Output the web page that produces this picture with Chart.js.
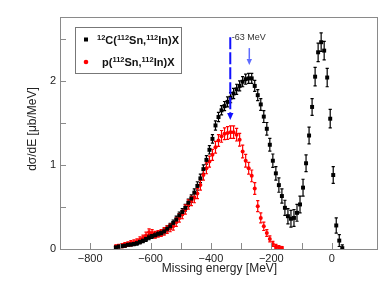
<!DOCTYPE html>
<html>
<head>
<meta charset="utf-8">
<script src="https://cdn.jsdelivr.net/npm/chart.js@4"></script>
<style>
  html, body { margin: 0; padding: 0; background: #fff; }
  #wrap { width: 392px; height: 286px; }
</style>
</head>
<body>
<div id="wrap"><canvas id="chart" width="392" height="286"></canvas></div>
<script>
// ==============================
// data
// ==============================
const blackX = [
  -715, -705, -695, -685, -675, -665, -655, -645, -635, -625,
  -615, -605, -595, -585, -575, -565, -555, -545, -535, -525,
  -515, -505, -495, -485, -475, -465, -455, -445, -435, -425,
  -415, -405, -395, -385, -375, -365, -355, -345, -335, -325,
  -315, -305, -295, -285, -275, -265, -255, -245, -235, -225,
  -215, -205, -195, -185, -175, -165, -155, -145, -135, -125,
  -115, -105, -95, -85, -75, -65, -55, -45, -35, -25,
  -15, -5, 5, 15, 25, 35
];
const blackY = [
  0.02, 0.03, 0.035, 0.04, 0.05, 0.055, 0.06, 0.07, 0.085, 0.10,
  0.12, 0.14, 0.155, 0.165, 0.18, 0.19, 0.21, 0.24, 0.27, 0.31,
  0.35, 0.40, 0.44, 0.49, 0.55, 0.60, 0.67, 0.75, 0.84, 0.95,
  1.06, 1.18, 1.31, 1.47, 1.57, 1.65, 1.70, 1.75, 1.80, 1.85,
  1.90, 1.94, 1.99, 2.02, 2.03, 2.03, 1.94, 1.83, 1.72, 1.575,
  1.43, 1.24, 1.05, 0.90, 0.76, 0.63, 0.49, 0.39, 0.36, 0.37,
  0.43, 0.53, 0.73, 1.02, 1.35, 1.69, 2.05, 2.34, 2.46, 2.36,
  2.04, 1.55, 0.88, 0.28, 0.10, 0.01
];
const blackErr = [
  0.02, 0.02, 0.02, 0.02, 0.02, 0.02, 0.02, 0.025, 0.025, 0.025,
  0.03, 0.03, 0.03, 0.03, 0.03, 0.03, 0.03, 0.035, 0.035, 0.035,
  0.04, 0.04, 0.04, 0.04, 0.045, 0.045, 0.045, 0.05, 0.05, 0.05,
  0.05, 0.05, 0.05, 0.055, 0.055, 0.055, 0.055, 0.06, 0.06, 0.06,
  0.06, 0.06, 0.06, 0.06, 0.06, 0.06, 0.065, 0.065, 0.07, 0.07,
  0.075, 0.075, 0.08, 0.08, 0.085, 0.085, 0.09, 0.09, 0.1, 0.1,
  0.1, 0.1, 0.1, 0.1, 0.1, 0.1, 0.11, 0.11, 0.11, 0.11,
  0.11, 0.11, 0.1, 0.09, 0.07, 0.04
];

const redX = [
  -715, -705, -695, -685, -675, -665, -655, -645, -635, -625,
  -615, -605, -595, -585, -575, -565, -555, -545, -535, -525,
  -515, -505, -495, -485, -475, -465, -455, -445, -435, -425,
  -415, -405, -395, -385, -375, -365, -355, -345, -335, -325,
  -315, -305, -295, -285, -275, -265, -255, -245, -235, -225,
  -215, -205, -195, -185, -175, -165
];
const redY = [
  0.03, 0.035, 0.04, 0.05, 0.06, 0.07, 0.08, 0.09, 0.11, 0.13,
  0.16, 0.20, 0.19, 0.17, 0.18, 0.19, 0.21, 0.23, 0.25, 0.27,
  0.32, 0.37, 0.41, 0.47, 0.53, 0.57, 0.61, 0.66, 0.76, 0.88,
  0.96, 1.04, 1.12, 1.21, 1.29, 1.34, 1.37, 1.38, 1.39, 1.39,
  1.36, 1.30, 1.16, 1.05, 0.96, 0.87, 0.72, 0.51, 0.37, 0.27,
  0.19, 0.12, 0.06, 0.03, 0.02, 0.015
];
const redErr = [
  0.02, 0.02, 0.025, 0.025, 0.025, 0.03, 0.03, 0.03, 0.035, 0.035,
  0.04, 0.04, 0.04, 0.04, 0.04, 0.04, 0.045, 0.045, 0.045, 0.045,
  0.05, 0.05, 0.05, 0.055, 0.055, 0.055, 0.06, 0.06, 0.06, 0.06,
  0.065, 0.065, 0.065, 0.07, 0.07, 0.07, 0.07, 0.075, 0.075, 0.075,
  0.075, 0.075, 0.075, 0.075, 0.07, 0.07, 0.07, 0.065, 0.06, 0.05,
  0.04, 0.035, 0.03, 0.025, 0.02, 0.015
];

// tick labels
const xLabelValues = [-800, -600, -400, -200, 0];
const yLabelValues = [0, 1, 2];

// arrows: x in MeV, y from/to in μb/MeV
const arrowDashed = { x: -336, yFrom: 2.52, yTo: 1.535 };
const arrowSolid = { x: -273, yFrom: 2.39, yTo: 2.19 };
const arrowText = "-63 MeV";

// ==============================
// helpers
// ==============================
const toPoints = (xs, ys) => xs.map((x, i) => ({ x: x, y: ys[i] }));
const FONT = "'Liberation Sans', Arial, sans-serif";
const AXIS_COLOR = "#8a8a8a";

// error bars
const errorBars = {
  id: "errorBars",
  beforeDatasetsDraw(chart) {
    const { ctx, scales } = chart;
    ctx.save();
    chart.data.datasets.forEach(ds => {
      if (!ds.err) return;
      ctx.strokeStyle = ds.borderColor;
      ctx.lineWidth = 1.2;
      ds.data.forEach((p, i) => {
        const px = scales.x.getPixelForValue(p.x);
        const top = scales.y.getPixelForValue(p.y + ds.err[i]);
        const bot = scales.y.getPixelForValue(Math.max(0, p.y - ds.err[i]));
        ctx.beginPath();
        ctx.moveTo(px, top); ctx.lineTo(px, bot);
        ctx.moveTo(px - 1.6, top); ctx.lineTo(px + 1.6, top);
        ctx.moveTo(px - 1.6, bot); ctx.lineTo(px + 1.6, bot);
        ctx.stroke();
      });
    });
    ctx.restore();
  }
};

function drawArrow(ctx, x, y1, y2, color, width, dash, head) {
  ctx.save();
  ctx.strokeStyle = color;
  ctx.fillStyle = color;
  ctx.lineWidth = width;
  ctx.setLineDash(dash);
  ctx.beginPath();
  ctx.moveTo(x, y1);
  ctx.lineTo(x, y2 - head);
  ctx.stroke();
  ctx.setLineDash([]);
  ctx.beginPath();
  ctx.moveTo(x - head * 0.45, y2 - head);
  ctx.lineTo(x + head * 0.45, y2 - head);
  ctx.lineTo(x, y2);
  ctx.closePath();
  ctx.fill();
  ctx.restore();
}

// text with superscripts: parts = [[text, isSup], ...]
function drawRich(ctx, parts, x, y) {
  parts.forEach(([t, sup]) => {
    ctx.font = sup ? "bold 7.5px " + FONT : "bold 11px " + FONT;
    ctx.fillText(t, x, sup ? y - 4 : y);
    x += ctx.measureText(t).width;
  });
}

// frame, inward ticks, titles, legend, arrows
const decorations = {
  id: "decorations",
  afterDraw(chart) {
    const { ctx, chartArea: a, scales } = chart;
    ctx.save();

    // frame
    ctx.strokeStyle = AXIS_COLOR;
    ctx.lineWidth = 1;
    ctx.strokeRect(a.left + 0.5, a.top + 0.5, a.right - a.left, a.bottom - a.top);

    // inward ticks
    ctx.beginPath();
    scales.x.ticks.forEach(t => {
      const px = Math.round(scales.x.getPixelForValue(t.value)) + 0.5;
      ctx.moveTo(px, a.bottom);
      ctx.lineTo(px, a.bottom - 6);
    });
    scales.y.ticks.forEach(t => {
      const py = Math.round(scales.y.getPixelForValue(t.value)) + 0.5;
      ctx.moveTo(a.left, py);
      ctx.lineTo(a.left + 6, py);
    });
    ctx.stroke();

    // axis titles
    ctx.fillStyle = "#222";
    ctx.font = "12px " + FONT;
    ctx.textAlign = "center";
    ctx.textBaseline = "middle";
    ctx.fillText("Missing energy [MeV]", (a.left + a.right) / 2 + 1, 269);
    ctx.save();
    ctx.translate(33, (a.top + a.bottom) / 2 - 4);
    ctx.rotate(-Math.PI / 2);
    ctx.fillText("dσ/dE [μb/MeV]", 0, 0);
    ctx.restore();

    // legend
    ctx.strokeStyle = "#777";
    ctx.strokeRect(75.5, 27.5, 106, 46);
    ctx.fillStyle = "#000";
    ctx.fillRect(84, 37.5, 4, 4);
    ctx.fillStyle = "#ff0000";
    ctx.beginPath();
    ctx.arc(86, 62, 2.3, 0, Math.PI * 2);
    ctx.fill();
    ctx.fillStyle = "#111";
    ctx.textAlign = "left";
    ctx.textBaseline = "alphabetic";
    drawRich(ctx, [["12", true], ["C(", false], ["112", true], ["Sn,", false], ["112", true], ["In)X", false]], 97, 44);
    drawRich(ctx, [["p(", false], ["112", true], ["Sn,", false], ["112", true], ["In)X", false]], 102, 66);

    // arrows
    const xd = scales.x.getPixelForValue(arrowDashed.x);
    drawArrow(ctx, xd, scales.y.getPixelForValue(arrowDashed.yFrom),
      scales.y.getPixelForValue(arrowDashed.yTo), "#1010ff", 2, [12, 3], 7);
    const xs = scales.x.getPixelForValue(arrowSolid.x);
    drawArrow(ctx, xs, scales.y.getPixelForValue(arrowSolid.yFrom),
      scales.y.getPixelForValue(arrowSolid.yTo), "#5f6cff", 1.5, [], 6);
    ctx.fillStyle = "#333";
    ctx.font = "9px " + FONT;
    ctx.textBaseline = "middle";
    ctx.fillText(arrowText, xd + 1.5, 38);

    ctx.restore();
  }
};

// ==============================
// chart
// ==============================
new Chart(document.getElementById("chart"), {
  type: "scatter",
  data: {
    datasets: [
      {
        label: "12C(112Sn,112In)X",
        data: toPoints(blackX, blackY),
        err: blackErr,
        borderColor: "#000",
        backgroundColor: "#000",
        pointStyle: "rect",
        pointRadius: 2.8,
        borderWidth: 0
      },
      {
        label: "p(112Sn,112In)X",
        data: toPoints(redX, redY),
        err: redErr,
        borderColor: "#ff0000",
        backgroundColor: "#ff0000",
        pointStyle: "circle",
        pointRadius: 2,
        borderWidth: 0
      }
    ]
  },
  options: {
    responsive: false,
    animation: false,
    layout: { padding: { left: 0, top: 17, right: 15, bottom: 0 } },
    plugins: {
      legend: { display: false },
      tooltip: { enabled: false }
    },
    scales: {
      x: {
        type: "linear",
        min: -900,
        max: 150,
        grid: { display: false, drawTicks: false },
        border: { display: false },
        afterFit: s => { s.height = 37; },
        ticks: {
          stepSize: 100,
          padding: 3,
          color: "#222",
          font: { family: FONT, size: 11 },
          maxRotation: 0,
          autoSkip: false,
          callback: v => xLabelValues.includes(v) ? (v < 0 ? "\u2212" + Math.abs(v) : String(v)) : ""
        }
      },
      y: {
        type: "linear",
        min: 0,
        max: 2.76,
        grid: { display: false, drawTicks: false },
        border: { display: false },
        afterFit: s => { s.width = 60; },
        ticks: {
          stepSize: 0.5,
          padding: 4,
          color: "#222",
          font: { family: FONT, size: 11 },
          callback: v => yLabelValues.includes(v) ? String(v) : ""
        }
      }
    }
  },
  plugins: [errorBars, decorations]
});
</script>
</body>
</html>
